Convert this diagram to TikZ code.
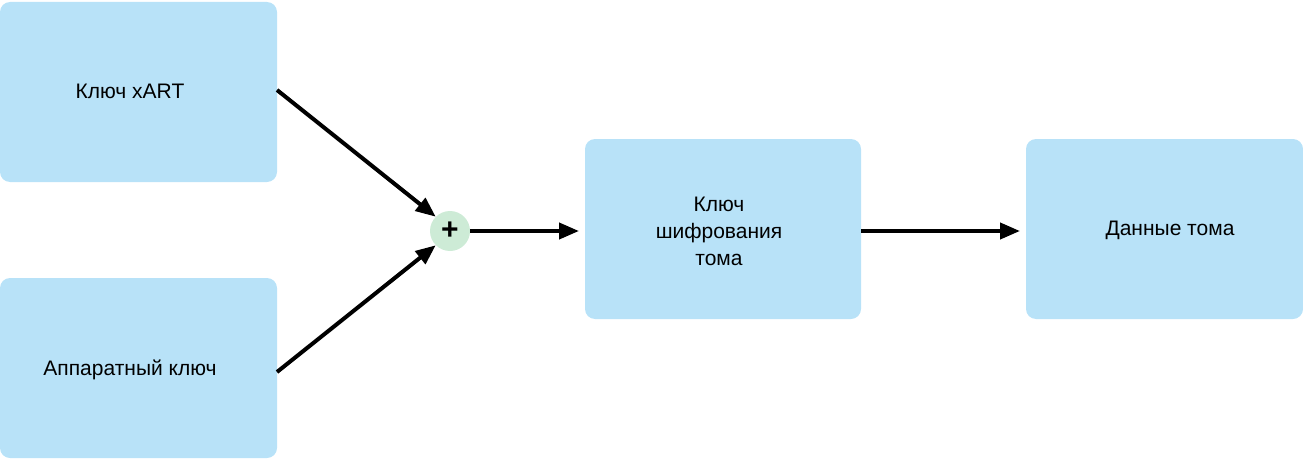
\documentclass[tikz,border=0pt]{standalone}
\usepackage{fontspec}
\setmainfont{Liberation Sans}
\usetikzlibrary{arrows.meta}
\definecolor{boxc}{HTML}{B8E2F8}
\definecolor{plusc}{HTML}{CDEBD6}
\begin{document}
\begin{tikzpicture}[x=1pt,y=-1pt,
  box/.style={fill=boxc,rounded corners=10pt,inner sep=0pt,font=\fontsize{21}{27}\selectfont,align=center},
  arr/.style={line width=4pt,-{Triangle[length=20pt,width=16pt]}}]
\useasboundingbox (0,0) rectangle (1303,460);
\fill[boxc,rounded corners=10pt] (0,2) rectangle (277,182);
\fill[boxc,rounded corners=10pt] (0,278) rectangle (277,458);
\fill[boxc,rounded corners=10pt] (585,139) rectangle (861,319);
\fill[boxc,rounded corners=10pt] (1026,139) rectangle (1303,319);
\node[box,fill=none] (a) at (130,91) {Ключ xART};
\node[box,fill=none] (b) at (130,370) {Аппаратный ключ};
\node[box,fill=none] (c) at (719,231) {Ключ\\шифрования\\тома};
\node[box,fill=none] (d) at (1170,230) {Данные тома};
\node[circle,fill=plusc,minimum size=40pt,inner sep=0pt,font=\fontsize{30}{30}\selectfont\bfseries] (p) at (450,231) {+};
\coordinate (a1) at (277,90);
\coordinate (b1) at (277,372);
\coordinate (c0) at (585,231);
\coordinate (c1) at (861,231);
\coordinate (d0) at (1026,231);
\draw[arr] (a1) -- (p.135);
\draw[arr] (b1) -- (p.-135);
\draw[arr] (p.east) -- ([xshift=-6pt]c0);
\draw[arr] (c1) -- ([xshift=-6pt]d0);
\end{tikzpicture}
\end{document}
